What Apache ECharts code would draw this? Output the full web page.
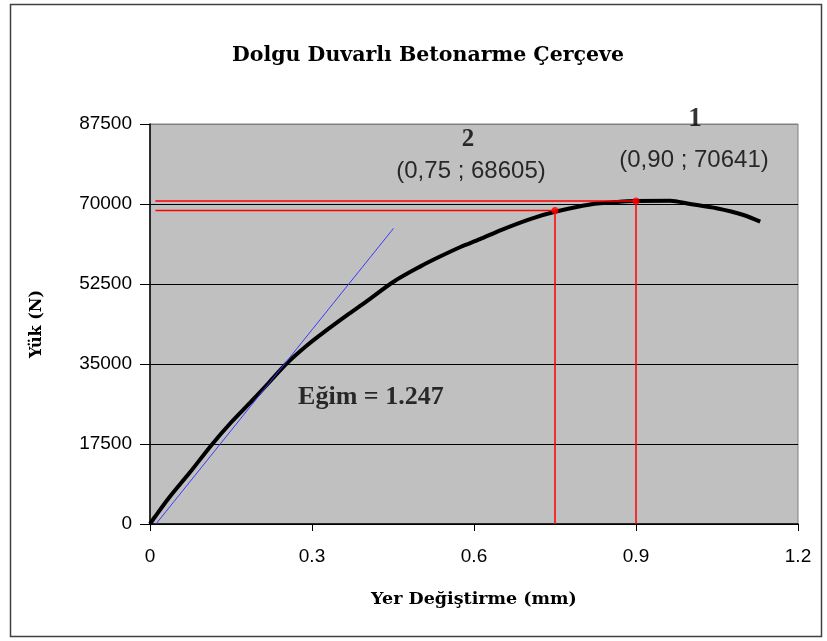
<!DOCTYPE html>
<html><head><meta charset="utf-8">
<script src="https://cdn.jsdelivr.net/npm/echarts@6/dist/echarts.min.js"></script>
<style>html,body{margin:0;padding:0;background:#fff}#c{width:827px;height:641px}</style>
</head><body><div id="c"></div>
<script>
const curveX = [0, 0.01, 0.037, 0.074, 0.114, 0.15, 0.185, 0.22, 0.253, 0.29, 0.327, 0.365, 0.401, 0.451, 0.5, 0.537, 0.575, 0.611, 0.65, 0.704, 0.75, 0.815, 0.87, 0.9, 0.963, 1.0, 1.049, 1.099, 1.13];
const curveY = [0, 1700, 6000, 11300, 17300, 22200, 26500, 30900, 35100, 39000, 42400, 45700, 48700, 53000, 56300, 58500, 60600, 62300, 64300, 66700, 68300, 69900, 70500, 70641, 70720, 70000, 69060, 67600, 66130];
const slopeX = [0.011, 0.451];
const slopeY = [0, 64680];
const point1 = [0.90, 70641];
const point2 = [0.75, 68605];
const yTicks = [0, 17500, 35000, 52500, 70000, 87500];
const xTicks = [0, 0.3, 0.6, 0.9, 1.2];
const titleText = 'Dolgu Duvarlı Betonarme Çerçeve';
const xName = 'Yer Değiştirme (mm)';
const yName = 'Yük (N)';
const slopeText = 'Eğim = 1.247';
const label1 = ['1', '(0,90 ; 70641)'];
const label2 = ['2', '(0,75 ; 68605)'];

const chart = echarts.init(document.getElementById('c'));
const serif = 'Liberation Serif';
const dserif = 'DejaVu Serif';
const sans = 'Liberation Sans';
chart.setOption({
  animation: false,
  backgroundColor: '#fff',
  title: { text: titleText, left: 423, top: 40, textAlign: 'center',
    textStyle: { fontFamily: dserif, fontWeight: 'bold', fontSize: 20.5, color: '#000' } },
  graphic: [{ type: 'rect', shape: { x: 10.5, y: 4.5, width: 811, height: 632 },
    style: { fill: 'none', stroke: '#404040', lineWidth: 1.5 }, z: -1 }],
  grid: { left: 150, top: 124, width: 648, height: 400, show: true, backgroundColor: '#c0c0c0',
    borderWidth: 1, borderColor: '#808080' },
  xAxis: { type: 'value', min: 0, max: 1.2, interval: 0.3,
    name: xName, nameLocation: 'middle', nameGap: 66,
    nameTextStyle: { fontFamily: dserif, fontWeight: 'bold', fontSize: 17.5, color: '#000' },
    axisLine: { show: true, onZero: false, lineStyle: { color: '#000', width: 1.5 } },
    axisTick: { show: true, length: 7, lineStyle: { color: '#000' } },
    axisLabel: { margin: 23, fontFamily: sans, fontSize: 19, color: '#000',
      formatter: v => String(Math.round(v * 10) / 10) },
    splitLine: { show: false } },
  yAxis: { type: 'value', min: 0, max: 87500, interval: 17500,
    name: yName, nameLocation: 'middle', nameGap: 105, nameRotate: 90,
    nameTextStyle: { fontFamily: dserif, fontWeight: 'bold', fontSize: 16, color: '#000' },
    axisLine: { show: true, lineStyle: { color: '#000', width: 1.5 } },
    axisTick: { show: true, length: 10, lineStyle: { color: '#000' } },
    axisLabel: { margin: 18, fontFamily: sans, fontSize: 19, color: '#000', formatter: v => String(v) },
    splitLine: { show: true, lineStyle: { color: ['#000', '#000', '#000', '#000', '#000', '#808080'], width: 1.2 } } },
  series: [
    { type: 'line', name: 'curve', data: curveX.map((x, i) => [x, curveY[i]]),
      showSymbol: false, smooth: 0.3, lineStyle: { color: '#000', width: 4 }, z: 3 },
    { type: 'line', name: 'slope', data: slopeX.map((x, i) => [x, slopeY[i]]),
      showSymbol: false, lineStyle: { color: '#3a3aff', width: 1 }, z: 4 },
    { type: 'line', name: 'ref1', data: [[0.01, point1[1]], point1, [point1[0], 0]],
      showSymbol: false, lineStyle: { color: '#ff0000', width: 1.5 }, z: 5 },
    { type: 'line', name: 'ref2', data: [[0.01, point2[1]], point2, [point2[0], 0]],
      showSymbol: false, lineStyle: { color: '#ff0000', width: 1.5 }, z: 5 },
    { type: 'scatter', name: 'pts', data: [point1, point2], symbolSize: 7,
      itemStyle: { color: '#ff0000' }, z: 6 },
    { type: 'scatter', name: 'labels', symbolSize: 0, z: 7, silent: true,
      data: [
        { value: point1, label: { show: true, position: 'inside', offset: [59, -82], formatter: label1[0],
            fontFamily: serif, fontWeight: 'bold', fontSize: 27, color: '#000' } },
        { value: point1, label: { show: true, position: 'inside', offset: [58, -41],
            formatter: label1[1], fontFamily: sans, fontSize: 24, color: '#000' } },
        { value: point2, label: { show: true, position: 'inside', offset: [-87, -71], formatter: label2[0],
            fontFamily: serif, fontWeight: 'bold', fontSize: 25, color: '#000' } },
        { value: point2, label: { show: true, position: 'inside', offset: [-84, -39],
            formatter: label2[1], fontFamily: sans, fontSize: 24, color: '#000' } },
        { value: [0.409, 27780], label: { show: true, position: 'inside', formatter: slopeText,
            fontFamily: serif, fontWeight: 'bold', fontSize: 26, color: '#000' } }
      ] }
  ]
});
</script></body></html>
